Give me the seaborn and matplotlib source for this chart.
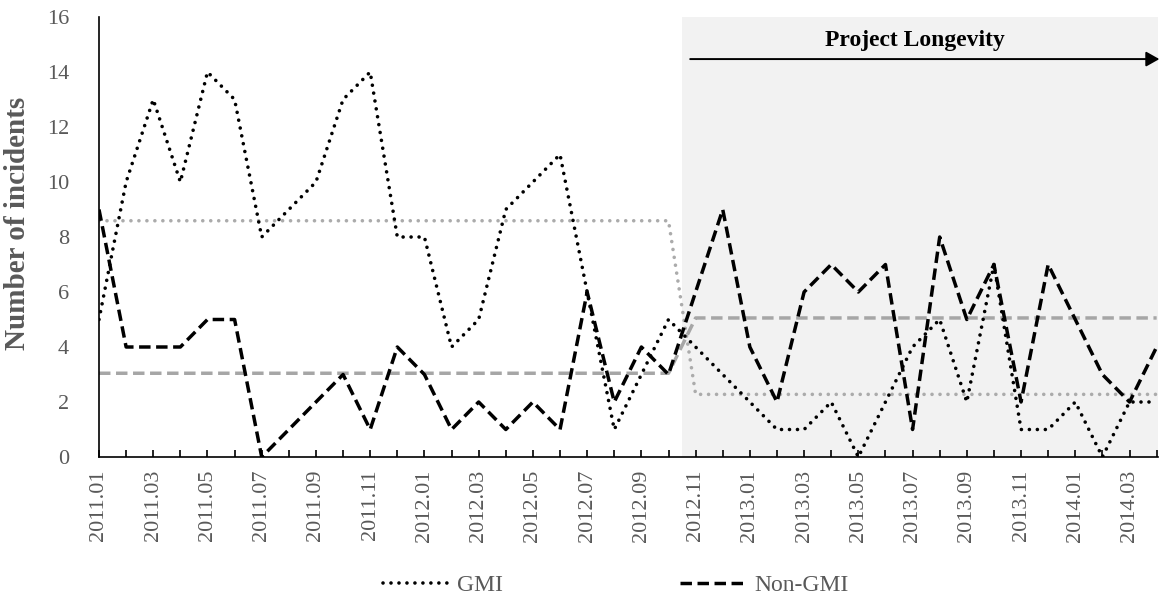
import numpy as np
import pandas as pd
import matplotlib
matplotlib.use("Agg")
import matplotlib.pyplot as plt
import seaborn as sns

months = ["2011.01", "2011.02", "2011.03", "2011.04", "2011.05", "2011.06", "2011.07", "2011.08",
          "2011.09", "2011.10", "2011.11", "2011.12", "2012.01", "2012.02", "2012.03", "2012.04",
          "2012.05", "2012.06", "2012.07", "2012.08", "2012.09", "2012.10", "2012.11", "2012.12",
          "2013.01", "2013.02", "2013.03", "2013.04", "2013.05", "2013.06", "2013.07", "2013.08",
          "2013.09", "2013.10", "2013.11", "2013.12", "2014.01", "2014.02", "2014.03", "2014.04"]
gmi = [5, 10, 13, 10, 14, 13, 8, 9, 10, 13, 14, 8, 8, 4, 5, 9, 10, 11, 6, 1, 3, 5,
       4, 3, 2, 1, 1, 2, 0, 2, 4, 5, 2, 7, 1, 1, 2, 0, 2, 2]
non_gmi = [9, 4, 4, 4, 5, 5, 0, 1, 2, 3, 1, 4, 3, 1, 2, 1, 2, 1, 6, 2, 4, 3,
           6, 9, 4, 2, 6, 7, 6, 7, 1, 8, 5, 7, 2, 7, 5, 3, 2, 4]
n_before = 22  # months before Project Longevity (2011.01 - 2012.10)
project_label = "Project Longevity"

sns.set_style("white")
plt.rcParams['font.family'] = ['Liberation Serif', 'DejaVu Serif']

idx = np.arange(len(months))
gmi_arr = np.array(gmi, dtype=float)
ngmi_arr = np.array(non_gmi, dtype=float)
gmi_mean = np.where(idx < n_before, gmi_arr[:n_before].mean(), gmi_arr[n_before:].mean())
ngmi_mean = np.where(idx < n_before, ngmi_arr[:n_before].mean(), ngmi_arr[n_before:].mean())

df = pd.DataFrame({"i": idx, "GMI": gmi_arr, "Non-GMI": ngmi_arr,
                   "gmi_mean": gmi_mean, "ngmi_mean": ngmi_mean})

fig = plt.figure(figsize=(11.59, 6.04), dpi=100)
ax = fig.add_axes([99 / 1159, 1 - 457 / 604, (1158 - 99) / 1159, (457 - 17) / 604])

# shaded post period
ax.axvspan(n_before - 0.5, len(months) - 1 + 0.05, ymin=0, ymax=1, color="#f2f2f2", zorder=0, lw=0)

dot = (0, (0.01, 2.2))
dash = (0, (3.3, 1.6))


def draw(col, color, style, lw, z, label=None):
    n0 = len(ax.lines)
    sns.lineplot(data=df, x="i", y=col, ax=ax, color=color, zorder=z,
                 label=label, legend=False)
    ln = ax.lines[n0]
    ln.set_linewidth(lw)
    ln.set_linestyle(style)
    ln.set_dash_capstyle("round" if style is dot else "butt")
    if label:
        ln.set_label(label)
    return ln


draw("gmi_mean", "#ababab", dot, 2.6, 2)
draw("ngmi_mean", "#a6a6a6", dash, 2.5, 2)
l1 = draw("GMI", "black", dot, 2.6, 3, "GMI")
l2 = draw("Non-GMI", "black", dash, 2.5, 3, "Non-GMI")

ax.set_xlim(0, len(months) - 1 + 0.05)
ax.set_ylim(0, 16)
ax.set_yticks(np.arange(0, 17, 2))
ax.set_xticks(idx[::2])
ax.set_xticklabels(months[::2], rotation=90)
ax.set_xticks(idx, minor=True)
ax.tick_params(axis="x", which="both", direction="in", length=5, width=1.2, color="black",
               bottom=True, labelsize=16, labelcolor="#595959", pad=9)
ax.tick_params(axis="y", which="both", left=False, labelsize=16, labelcolor="#595959", pad=18)
ax.set_xlabel("")
ax.set_ylabel("Number of incidents", fontsize=21, fontweight="bold", color="#595959")
ax.yaxis.label.set_verticalalignment("center")
ax.yaxis.set_label_coords(-0.0774, 0.53)

for s in ["top", "right"]:
    ax.spines[s].set_visible(False)
for s in ["left", "bottom"]:
    ax.spines[s].set_color("black")
    ax.spines[s].set_linewidth(1.2)

# arrow & label
ax.annotate("", xy=(len(months) - 1 + 0.1, 14.47), xytext=(21.8, 14.47),
            arrowprops=dict(arrowstyle="-|>,head_length=0.8,head_width=0.45", color="#404040",
                            lw=1.4, shrinkA=0, shrinkB=0, fc="black", ec="black"),
            annotation_clip=False)
ax.text(30.1, 15.16, project_label, ha="center", va="center", fontsize=17, fontweight="bold",
        color="black")

fig.legend([l1, l2], ["GMI", "Non-GMI"], loc="center", bbox_to_anchor=(616 / 1159, 1 - 585 / 604),
           ncol=2, frameon=False, fontsize=17, handlelength=2.8, handletextpad=0.35,
           columnspacing=7.5, labelcolor="#595959")

fig.savefig("out.png", dpi=100)
